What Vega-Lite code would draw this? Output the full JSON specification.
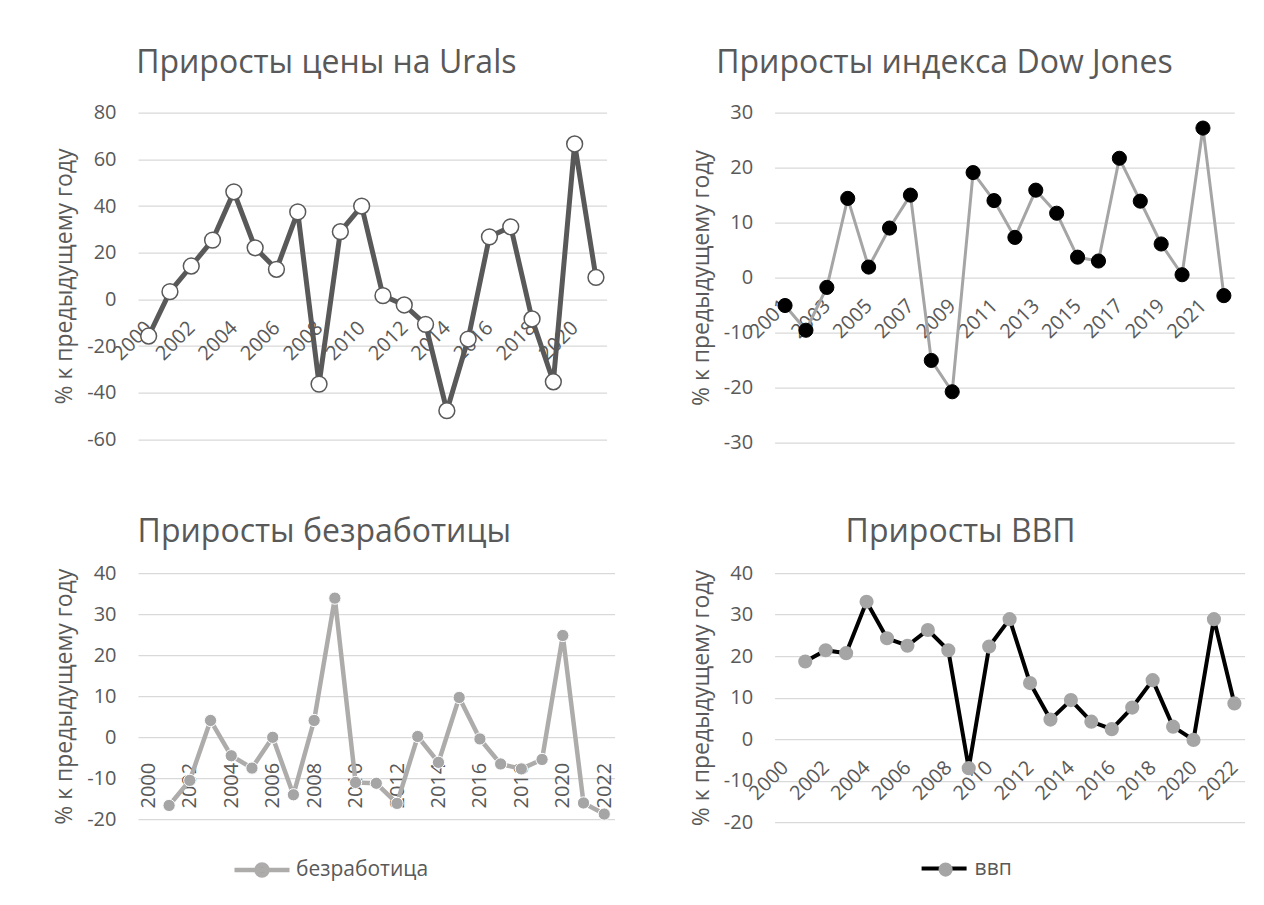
{
  "$schema": "https://vega.github.io/schema/vega-lite/v6.json",
  "autosize": {"type": "none"},
  "padding": {"left": 138, "top": 112.7, "right": 1126, "bottom": 792.3},
  "background": "white",
  "config": {
    "font": "Open Sans",
    "view": {"stroke": null},
    "axis": {
      "labelFont": "Open Sans", "labelFontSize": 20, "labelColor": "#595959",
      "titleFont": "Open Sans", "titleFontSize": 23, "titleColor": "#595959", "titleFontWeight": "normal",
      "domain": false, "ticks": false, "tickSize": 0,
      "gridColor": "#d9d9d9", "gridWidth": 1.3
    },
    "title": {"font": "Open Sans", "fontSize": 32, "color": "#595959", "fontWeight": "normal", "anchor": "middle", "frame": "group", "baseline": "alphabetic"},
    "legend": {"labelFont": "Open Sans", "labelFontSize": 21, "labelColor": "#595959", "title": null}
  },
  "resolve": {"scale": {"stroke": "independent", "fill": "independent"}, "legend": {"stroke": "independent", "fill": "independent"}},
  "datasets": {
    "urals": [
      {"year": 2000, "v": -15.7}, {"year": 2001, "v": 3.3}, {"year": 2002, "v": 14.3}, {"year": 2003, "v": 25.4},
      {"year": 2004, "v": 46.1}, {"year": 2005, "v": 22.1}, {"year": 2006, "v": 12.9}, {"year": 2007, "v": 37.5},
      {"year": 2008, "v": -36.3}, {"year": 2009, "v": 29.0}, {"year": 2010, "v": 40.0}, {"year": 2011, "v": 1.6},
      {"year": 2012, "v": -2.4}, {"year": 2013, "v": -10.7}, {"year": 2014, "v": -47.7}, {"year": 2015, "v": -17.0},
      {"year": 2016, "v": 26.8}, {"year": 2017, "v": 31.1}, {"year": 2018, "v": -8.4}, {"year": 2019, "v": -35.3},
      {"year": 2020, "v": 66.6}, {"year": 2021, "v": 9.4}
    ],
    "dow": [
      {"year": 2001, "v": -5.1}, {"year": 2002, "v": -9.6}, {"year": 2003, "v": -1.8}, {"year": 2004, "v": 14.4},
      {"year": 2005, "v": 1.9}, {"year": 2006, "v": 9.0}, {"year": 2007, "v": 15.0}, {"year": 2008, "v": -15.1},
      {"year": 2009, "v": -20.8}, {"year": 2010, "v": 19.1}, {"year": 2011, "v": 14.0}, {"year": 2012, "v": 7.3},
      {"year": 2013, "v": 15.9}, {"year": 2014, "v": 11.7}, {"year": 2015, "v": 3.7}, {"year": 2016, "v": 3.0},
      {"year": 2017, "v": 21.7}, {"year": 2018, "v": 13.9}, {"year": 2019, "v": 6.1}, {"year": 2020, "v": 0.5},
      {"year": 2021, "v": 27.2}, {"year": 2022, "v": -3.3}
    ],
    "unemp": [
      {"year": 2001, "v": -16.6}, {"year": 2002, "v": -10.5}, {"year": 2003, "v": 4.1}, {"year": 2004, "v": -4.5},
      {"year": 2005, "v": -7.5}, {"year": 2006, "v": 0.0}, {"year": 2007, "v": -14.0}, {"year": 2008, "v": 4.1},
      {"year": 2009, "v": 33.9}, {"year": 2010, "v": -11.0}, {"year": 2011, "v": -11.2}, {"year": 2012, "v": -16.1},
      {"year": 2013, "v": 0.2}, {"year": 2014, "v": -6.1}, {"year": 2015, "v": 9.7}, {"year": 2016, "v": -0.4},
      {"year": 2017, "v": -6.5}, {"year": 2018, "v": -7.7}, {"year": 2019, "v": -5.4}, {"year": 2020, "v": 24.8},
      {"year": 2021, "v": -16.0}, {"year": 2022, "v": -18.7}
    ],
    "gdp": [
      {"year": 2001, "v": 18.7}, {"year": 2002, "v": 21.4}, {"year": 2003, "v": 20.7}, {"year": 2004, "v": 33.1},
      {"year": 2005, "v": 24.3}, {"year": 2006, "v": 22.5}, {"year": 2007, "v": 26.3}, {"year": 2008, "v": 21.4},
      {"year": 2009, "v": -7.0}, {"year": 2010, "v": 22.3}, {"year": 2011, "v": 28.9}, {"year": 2012, "v": 13.5},
      {"year": 2013, "v": 4.7}, {"year": 2014, "v": 9.4}, {"year": 2015, "v": 4.2}, {"year": 2016, "v": 2.4},
      {"year": 2017, "v": 7.6}, {"year": 2018, "v": 14.2}, {"year": 2019, "v": 3.0}, {"year": 2020, "v": -0.2},
      {"year": 2021, "v": 28.9}, {"year": 2022, "v": 8.6}
    ]
  },
  "columns": 2,
  "align": "all",
  "bounds": "flush",
  "spacing": {"row": 130.4, "column": 159.6},
  "concat": [
    {
      "width": 468.6, "height": 326.7,
      "title": {"text": "Приросты цены на Urals", "dx": -46, "offset": 23},
      "data": {"name": "urals"},
      "encoding": {
        "x": {"field": "year", "type": "ordinal",
          "axis": {"values": [2000, 2002, 2004, 2006, 2008, 2010, 2012, 2014, 2016, 2018, 2020], "labelAngle": -45, "labelAlign": "right", "labelBaseline": "middle", "labelPadding": 25, "offset": -140, "grid": false, "title": null, "labelOverlap": false}},
        "y": {"field": "v", "type": "quantitative", "scale": {"domain": [-60, 80], "nice": false, "zero": false},
          "axis": {"values": [-60, -40, -20, 0, 20, 40, 60, 80], "labelExpr": "datum.value + ''", "title": "% к предыдущему году", "labelPadding": 22, "titlePadding": 10, "grid": true}}
      },
      "layer": [
        {"mark": {"type": "line", "color": "#595959", "strokeWidth": 5, "strokeJoin": "round", "strokeCap": "round"}, "encoding": {}},
        {"mark": {"type": "point", "filled": true, "fill": "white", "stroke": "#595959", "strokeWidth": 1.5, "size": 250, "opacity": 1}, "encoding": {}}
      ]
    },
    {
      "width": 459.7, "height": 329.6,
      "title": {"text": "Приросты индекса Dow Jones", "dx": -60, "offset": 23},
      "data": {"name": "dow"},
      "encoding": {
        "x": {"field": "year", "type": "ordinal",
          "axis": {"values": [2001, 2003, 2005, 2007, 2009, 2011, 2013, 2015, 2017, 2019, 2021], "labelAngle": -45, "labelAlign": "right", "labelBaseline": "middle", "labelPadding": 25, "offset": -164.8, "grid": false, "title": null, "labelOverlap": false}},
        "y": {"field": "v", "type": "quantitative", "scale": {"domain": [-30, 30], "nice": false, "zero": false},
          "axis": {"values": [-30, -20, -10, 0, 10, 20, 30], "labelExpr": "datum.value + ''", "title": "% к предыдущему году", "labelPadding": 22, "titlePadding": 10, "grid": true}}
      },
      "layer": [
        {"mark": {"type": "line", "color": "#A5A5A5", "strokeWidth": 3, "strokeJoin": "round", "strokeCap": "round"}, "encoding": {}},
        {"mark": {"type": "point", "filled": true, "fill": "black", "stroke": "black", "strokeWidth": 1, "size": 200, "opacity": 1}, "encoding": {}}
      ]
    },
    {
      "width": 476.6, "height": 246.3,
      "title": {"text": "Приросты безработицы", "dx": -52, "offset": 14},
      "data": {"name": "unemp"},
      "encoding": {
        "x": {"field": "year", "type": "ordinal",
          "scale": {"domain": [2000, 2001, 2002, 2003, 2004, 2005, 2006, 2007, 2008, 2009, 2010, 2011, 2012, 2013, 2014, 2015, 2016, 2017, 2018, 2019, 2020, 2021, 2022]},
          "axis": {"values": [2000, 2002, 2004, 2006, 2008, 2010, 2012, 2014, 2016, 2018, 2020, 2022], "labelAngle": -90, "labelAlign": "right", "labelBaseline": "middle", "labelPadding": 25, "offset": -82.1, "grid": false, "title": null, "labelOverlap": false}},
        "y": {"field": "v", "type": "quantitative", "scale": {"domain": [-20, 40], "nice": false, "zero": false},
          "axis": {"values": [-20, -10, 0, 10, 20, 30, 40], "labelExpr": "datum.value + ''", "title": "% к предыдущему году", "labelPadding": 22, "titlePadding": 10, "grid": true}}
      },
      "layer": [
        {"mark": {"type": "line", "strokeWidth": 4.5, "strokeJoin": "round", "strokeCap": "round"},
         "encoding": {"stroke": {"datum": "безработица", "type": "nominal", "scale": {"range": ["#AEABAB"]},
           "legend": {"title": null, "orient": "none", "legendX": 94, "legendY": 267, "symbolType": "M-1,0L1,0M0.2,0A0.2,0.2,0,1,1,-0.2,0A0.2,0.2,0,1,1,0.2,0Z", "symbolSize": 3025, "symbolStrokeWidth": 4.5, "symbolFillColor": "#A5A5A5", "labelOffset": 4}}}},
        {"mark": {"type": "point", "filled": true, "fill": "#A5A5A5", "stroke": "white", "strokeWidth": 1, "size": 150, "opacity": 1}, "encoding": {}}
      ]
    },
    {
      "width": 470, "height": 249,
      "title": {"text": "Приросты ВВП", "dx": -49, "offset": 14},
      "data": {"name": "gdp"},
      "encoding": {
        "x": {"field": "year", "type": "ordinal",
          "scale": {"domain": [2000, 2001, 2002, 2003, 2004, 2005, 2006, 2007, 2008, 2009, 2010, 2011, 2012, 2013, 2014, 2015, 2016, 2017, 2018, 2019, 2020, 2021, 2022]},
          "axis": {"values": [2000, 2002, 2004, 2006, 2008, 2010, 2012, 2014, 2016, 2018, 2020, 2022], "labelAngle": -45, "labelAlign": "right", "labelBaseline": "middle", "labelPadding": 25, "offset": -83, "grid": false, "title": null, "labelOverlap": false}},
        "y": {"field": "v", "type": "quantitative", "scale": {"domain": [-20, 40], "nice": false, "zero": false},
          "axis": {"values": [-20, -10, 0, 10, 20, 30, 40], "labelExpr": "datum.value + ''", "title": "% к предыдущему году", "labelPadding": 22, "titlePadding": 10, "grid": true}}
      },
      "layer": [
        {"mark": {"type": "line", "strokeWidth": 4, "strokeJoin": "round", "strokeCap": "round"},
         "encoding": {"stroke": {"datum": "ввп", "type": "nominal", "scale": {"range": ["black"]},
           "legend": {"title": null, "orient": "none", "legendX": 145, "legendY": 271, "symbolType": "stroke", "symbolSize": 2025, "symbolStrokeWidth": 4, "labelOffset": 6}}}},
        {"mark": {"type": "point", "filled": true, "size": 200, "opacity": 1},
         "encoding": {"fill": {"datum": "•", "type": "nominal", "scale": {"range": ["#A5A5A5"]},
           "legend": {"title": null, "orient": "none", "legendX": 160.5, "legendY": 286, "symbolType": "circle", "symbolSize": 200, "symbolStrokeWidth": 0, "labelExpr": "''"}}}}
      ]
    }
  ]
}
